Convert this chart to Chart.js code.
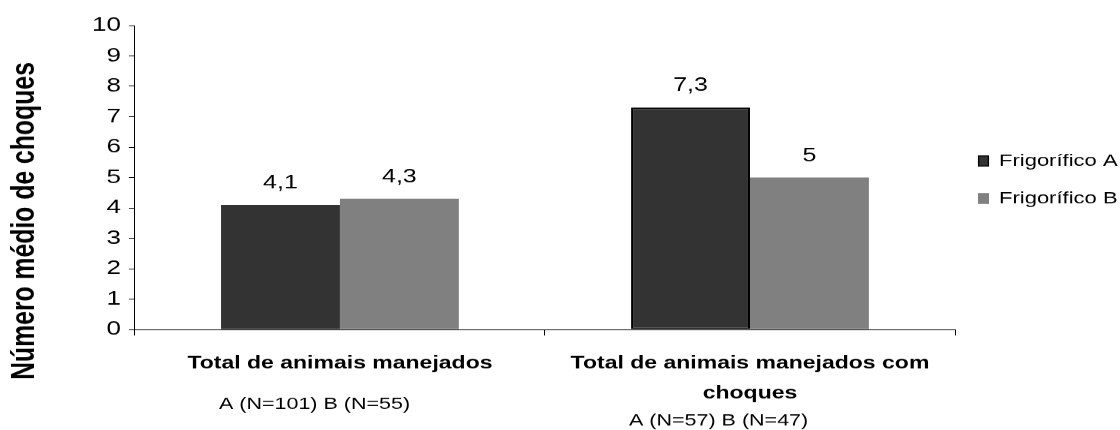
<!DOCTYPE html>
<html>
<head>
<meta charset="utf-8">
<title>Número médio de choques</title>
<script src="https://cdn.jsdelivr.net/npm/chart.js@4/dist/chart.umd.min.js"></script>
<style>
  html, body { margin: 0; padding: 0; background: #fff; overflow: hidden; }
  /* The chart is laid out on a taller surface and shown squashed vertically */
  #frame {
    position: absolute; left: 0; top: 0;
    width: 1120px; height: 573px;
    transform: scaleY(0.7504); transform-origin: 0 0;
  }
</style>
</head>
<body>
<div id="frame"><canvas id="chart"></canvas></div>
<script>
// ---- data ----
const categories = ['Total de animais manejados', 'Total de animais manejados com choques'];
const categoryLines = [['Total de animais manejados'], ['Total de animais manejados com', 'choques']];
const sampleSizes = ['A (N=101) B (N=55)', 'A (N=57) B (N=47)'];
const seriesNames = ['Frigorífico A', 'Frigorífico B'];
const frigorificoA = [4.1, 7.3];
const frigorificoB = [4.3, 5];
const yTickValues = [0, 1, 2, 3, 4, 5, 6, 7, 8, 9, 10];
const yAxisTitle = 'Número médio de choques';

// ---- styling ----
const FONT = '"Liberation Sans", Arial, Helvetica, sans-serif';
const fmt = v => String(v).replace('.', ',');

// numbers above each bar
const valueLabels = {
  id: 'valueLabels',
  afterDatasetsDraw(chart) {
    const ctx = chart.ctx;
    ctx.save();
    ctx.font = `25px ${FONT}`;
    ctx.fillStyle = '#000';
    ctx.textAlign = 'center';
    ctx.textBaseline = 'alphabetic';
    chart.data.datasets.forEach((ds, i) => {
      chart.getDatasetMeta(i).data.forEach((bar, j) => {
        ctx.fillText(fmt(ds.data[j]), bar.x, bar.y - 22);
      });
    });
    ctx.restore();
  }
};

// category names (bold) and sample sizes under the x axis
const categoryLabels = {
  id: 'categoryLabels',
  afterDraw(chart) {
    const ctx = chart.ctx;
    const xs = chart.scales.x;
    const bottom = chart.chartArea.bottom;
    ctx.save();
    ctx.fillStyle = '#000';
    ctx.textBaseline = 'alphabetic';
    categoryLines.forEach((lines, i) => {
      const cx = xs.getPixelForValue(i);
      ctx.font = `bold 23px ${FONT}`;
      ctx.textAlign = 'center';
      lines.forEach((t, k) => ctx.fillText(t, cx, bottom + 52 + k * 40));
      ctx.font = `21.5px ${FONT}`;
      ctx.textAlign = 'left';
      const ny = lines.length > 1 ? bottom + 52 + (lines.length - 1) * 40 + 36 : bottom + 106;
      ctx.fillText(sampleSizes[i], cx - 121, ny);
    });
    ctx.restore();
  }
};

// rotated y axis title
const yTitle = {
  id: 'yTitle',
  afterDraw(chart) {
    const ctx = chart.ctx;
    const a = chart.chartArea;
    ctx.save();
    ctx.translate(25, (a.top + a.bottom) / 2 + 58);
    ctx.rotate(-Math.PI / 2);
    ctx.font = `bold 33px ${FONT}`;
    ctx.fillStyle = '#000';
    ctx.textAlign = 'center';
    ctx.textBaseline = 'middle';
    ctx.fillText(yAxisTitle, 0, 0);
    ctx.restore();
  }
};

// legend at the right of the plot
const sideLegend = {
  id: 'sideLegend',
  afterDraw(chart) {
    const ctx = chart.ctx;
    const a = chart.chartArea;
    const cy = (a.top + a.bottom) / 2;
    ctx.save();
    ctx.font = `22px ${FONT}`;
    ctx.textAlign = 'left';
    ctx.textBaseline = 'middle';
    chart.data.datasets.forEach((ds, i) => {
      const y = cy - 22 + i * 50;
      const bx = a.right + 23;
      ctx.fillStyle = ds.backgroundColor;
      ctx.fillRect(bx, y - 7.3, 11, 14.6);
      if (ds.legendBorder) {
        ctx.strokeStyle = ds.borderColor;
        ctx.lineWidth = 1.3;
        ctx.strokeRect(bx + 0.6, y - 6.7, 9.8, 13.4);
      }
      ctx.fillStyle = '#000';
      ctx.fillText(ds.label, a.right + 44, y);
    });
    ctx.restore();
  }
};

new Chart(document.getElementById('chart'), {
  type: 'bar',
  data: {
    labels: categories,
    datasets: [
      {
        label: seriesNames[0],
        data: frigorificoA,
        backgroundColor: '#333333',
        borderColor: '#000000',
        borderWidth: [0, 2],
        borderSkipped: false,
        legendBorder: true
      },
      {
        label: seriesNames[1],
        data: frigorificoB,
        backgroundColor: '#808080',
        borderWidth: 0
      }
    ]
  },
  options: {
    responsive: true,
    maintainAspectRatio: false,
    animation: false,
    devicePixelRatio: 1,
    layout: { padding: { left: 84, right: 165, top: 34, bottom: 126 } },
    datasets: { bar: { categoryPercentage: 0.58, barPercentage: 1 } },
    plugins: { legend: { display: false }, tooltip: { enabled: false } },
    scales: {
      x: {
        grid: { drawOnChartArea: false, drawTicks: true, tickLength: 8, color: '#000', offset: true },
        border: { display: true, color: '#000', width: 1 },
        ticks: { display: false }
      },
      y: {
        min: 0,
        max: 10,
        afterBuildTicks: s => { s.ticks = yTickValues.map(v => ({ value: v })); },
        grid: { drawOnChartArea: false, drawTicks: true, tickLength: 6, color: '#000' },
        border: { display: true, color: '#000', width: 1 },
        ticks: { padding: 8, color: '#000', font: { family: FONT, size: 26 } }
      }
    }
  },
  plugins: [valueLabels, categoryLabels, yTitle, sideLegend]
});
</script>
</body>
</html>
